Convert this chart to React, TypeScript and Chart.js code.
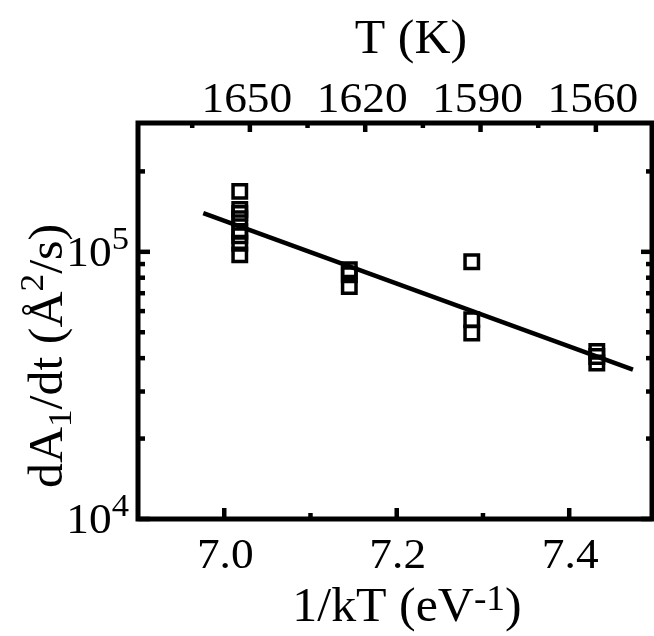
import React, { useEffect, useRef } from 'react';
import { Chart, registerables } from 'chart.js';

Chart.register(...registerables);

const FONT = "'Liberation Serif', 'Times New Roman', serif";

// Data (1/kT in eV^-1, dA1/dt in Å^2/s)
const clusterX = [7.018, 7.145, 7.287, 7.432];
const ratesA = [168400, 144200, 139300, 132900, 119300, 114800, 107600, 97400];
const ratesB = [85640, 82040, 74180];
const ratesC = [91750, 55690, 49670];
const ratesD = [42400, 40600, 38370];
const fitX = [6.9757, 7.4739];
const fitY = [139500, 36200];

// Axis ticks
const xMajorTicks = [7.0, 7.2, 7.4];
const xTickLabels = ['7.0', '7.2', '7.4'];
const xMinorTicks = [7.1, 7.3];
const tMajorTicks = [1650, 1620, 1590, 1560];
const tTickLabels = ['1650', '1620', '1590', '1560'];
const tMinorTicks = [1665, 1635, 1605, 1575];
const yMajorTicks = [1e4, 1e5];
const yTickExponents = ['4', '5'];
const yMinorTicks = [2e4, 3e4, 4e4, 5e4, 6e4, 7e4, 8e4, 9e4, 2e5];

type Seg = { text: string; size: number; dy: number };

function drawRich(ctx: CanvasRenderingContext2D, segs: Seg[], x: number, y: number, align: string, sx: number) {
  const widths = segs.map((s) => {
    ctx.font = `${s.size}px ${FONT}`;
    return ctx.measureText(s.text).width;
  });
  const total = widths.reduce((a, b) => a + b, 0);
  let start = align === 'center' ? -total / 2 : align === 'right' ? -total : 0;
  ctx.save();
  ctx.translate(x, y);
  ctx.scale(sx, 1);
  ctx.textBaseline = 'alphabetic';
  ctx.textAlign = 'left';
  ctx.fillStyle = '#000';
  segs.forEach((s, i) => {
    ctx.font = `${s.size}px ${FONT}`;
    ctx.fillText(s.text, start, s.dy);
    start += widths[i];
  });
  ctx.restore();
}

const framePlugin = {
  id: 'framePlugin',
  afterDraw(chart: any) {
    const ctx: CanvasRenderingContext2D = chart.ctx;
    const ca = chart.chartArea;
    const xs = chart.scales.x;
    const ts = chart.scales.xT;
    const ys = chart.scales.y;
    ctx.save();
    ctx.strokeStyle = '#000';
    ctx.lineJoin = 'miter';
    ctx.lineWidth = 5;
    ctx.strokeRect(ca.left, ca.top, ca.right - ca.left, ca.bottom - ca.top);

    const MAJ = 11;
    const MIN = 6;
    ctx.lineWidth = 4.5;
    ctx.lineCap = 'butt';
    const line = (x1: number, y1: number, x2: number, y2: number) => {
      ctx.beginPath();
      ctx.moveTo(x1, y1);
      ctx.lineTo(x2, y2);
      ctx.stroke();
    };
    xMajorTicks.forEach((v) => {
      const px = xs.getPixelForValue(v);
      line(px, ca.bottom, px, ca.bottom - MAJ);
    });
    xMinorTicks.forEach((v) => {
      const px = xs.getPixelForValue(v);
      line(px, ca.bottom, px, ca.bottom - MIN);
    });
    tMajorTicks.forEach((v) => {
      const px = ts.getPixelForValue(v);
      line(px, ca.top, px, ca.top + MAJ - 2);
    });
    tMinorTicks.forEach((v) => {
      const px = ts.getPixelForValue(v);
      line(px, ca.top, px, ca.top + MIN - 1);
    });
    yMajorTicks.forEach((v) => {
      const py = ys.getPixelForValue(v);
      line(ca.left, py, ca.left + MAJ + 1, py);
      line(ca.right, py, ca.right - MAJ, py);
    });
    yMinorTicks.forEach((v) => {
      const py = ys.getPixelForValue(v);
      line(ca.left, py, ca.left + MIN + 1, py);
      line(ca.right, py, ca.right - MIN, py);
    });

    const SX = 1.08;
    // bottom tick labels
    xMajorTicks.forEach((v, i) => {
      const px = xs.getPixelForValue(v);
      drawRich(ctx, [{ text: xTickLabels[i], size: 42, dy: 0 }], px + 1, ca.bottom + 49, 'center', SX);
    });
    // top tick labels
    tMajorTicks.forEach((v, i) => {
      const px = ts.getPixelForValue(v);
      drawRich(ctx, [{ text: tTickLabels[i], size: 42, dy: 0 }], px - 3, ca.top - 11, 'center', SX);
    });
    // y tick labels
    yMajorTicks.forEach((v, i) => {
      const py = ys.getPixelForValue(v);
      drawRich(
        ctx,
        [
          { text: '10', size: 42, dy: 0 },
          { text: yTickExponents[i], size: 32, dy: -17 },
        ],
        ca.left - 9,
        py + 14,
        'right',
        SX
      );
    });
    // top title
    drawRich(ctx, [{ text: 'T (K)', size: 48, dy: 0 }], 411, 53, 'center', 1.04);
    // bottom title
    drawRich(
      ctx,
      [
        { text: '1/kT (eV', size: 48, dy: 0 },
        { text: '-1', size: 36, dy: -11 },
        { text: ')', size: 48, dy: 0 },
      ],
      407,
      621,
      'center',
      1.04
    );
    // y title
    ctx.save();
    ctx.translate(62, 356);
    ctx.rotate(-Math.PI / 2);
    drawRich(
      ctx,
      [
        { text: 'dA', size: 48, dy: 0 },
        { text: '1', size: 34, dy: 9 },
        { text: '/dt (Å', size: 48, dy: 0 },
        { text: '2', size: 34, dy: -19 },
        { text: '/s)', size: 48, dy: 0 },
      ],
      0,
      0,
      'center',
      1.04
    );
    ctx.restore();
    ctx.restore();
  },
};

export default function App() {
  const ref = useRef<HTMLCanvasElement | null>(null);
  useEffect(() => {
    if (!ref.current) return;
    const pts = [
      ...ratesA.map((y) => ({ x: clusterX[0], y })),
      ...ratesB.map((y) => ({ x: clusterX[1], y })),
      ...ratesC.map((y) => ({ x: clusterX[2], y })),
      ...ratesD.map((y) => ({ x: clusterX[3], y })),
    ];
    const fit = fitX.map((x, i) => ({ x, y: fitY[i] }));
    const hidden = {
      ticks: { display: false },
      grid: { display: false },
      border: { display: false },
    };
    const chart = new Chart(ref.current, {
      type: 'scatter',
      data: {
        datasets: [
          {
            type: 'line',
            data: fit,
            borderColor: '#000',
            borderWidth: 4.5,
            pointRadius: 0,
            fill: false,
            order: 2,
          } as any,
          {
            data: pts,
            pointStyle: 'rect',
            pointRadius: 9.5,
            borderWidth: 3.5,
            borderColor: '#000',
            backgroundColor: 'rgba(0,0,0,0)',
            order: 1,
          },
        ],
      },
      options: {
        responsive: false,
        animation: false,
        layout: { autoPadding: false, padding: { right: 2, left: 0, top: 0, bottom: 0 } },
        plugins: { legend: { display: false }, tooltip: { enabled: false } },
        scales: {
          x: {
            type: 'linear',
            position: 'bottom',
            min: 6.9,
            max: 7.496,
            ...hidden,
            afterFit: (s: any) => {
              s.height = 117;
            },
          },
          xT: {
            type: 'linear',
            position: 'top',
            min: 1545.4,
            max: 1679.1,
            reverse: true,
            ...hidden,
            afterFit: (s: any) => {
              s.height = 123;
            },
          },
          y: {
            type: 'logarithmic',
            position: 'left',
            min: 1e4,
            max: 3.035e5,
            ...hidden,
            afterFit: (s: any) => {
              s.width = 138;
            },
          },
        },
      } as any,
      plugins: [framePlugin],
    });
    return () => chart.destroy();
  }, []);
  return (
    <div style={{ position: 'fixed', left: 0, top: 0, width: 654, height: 636, background: '#fff' }}>
      <canvas ref={ref} width={654} height={636} style={{ display: 'block', width: 654, height: 636 }} />
    </div>
  );
}
